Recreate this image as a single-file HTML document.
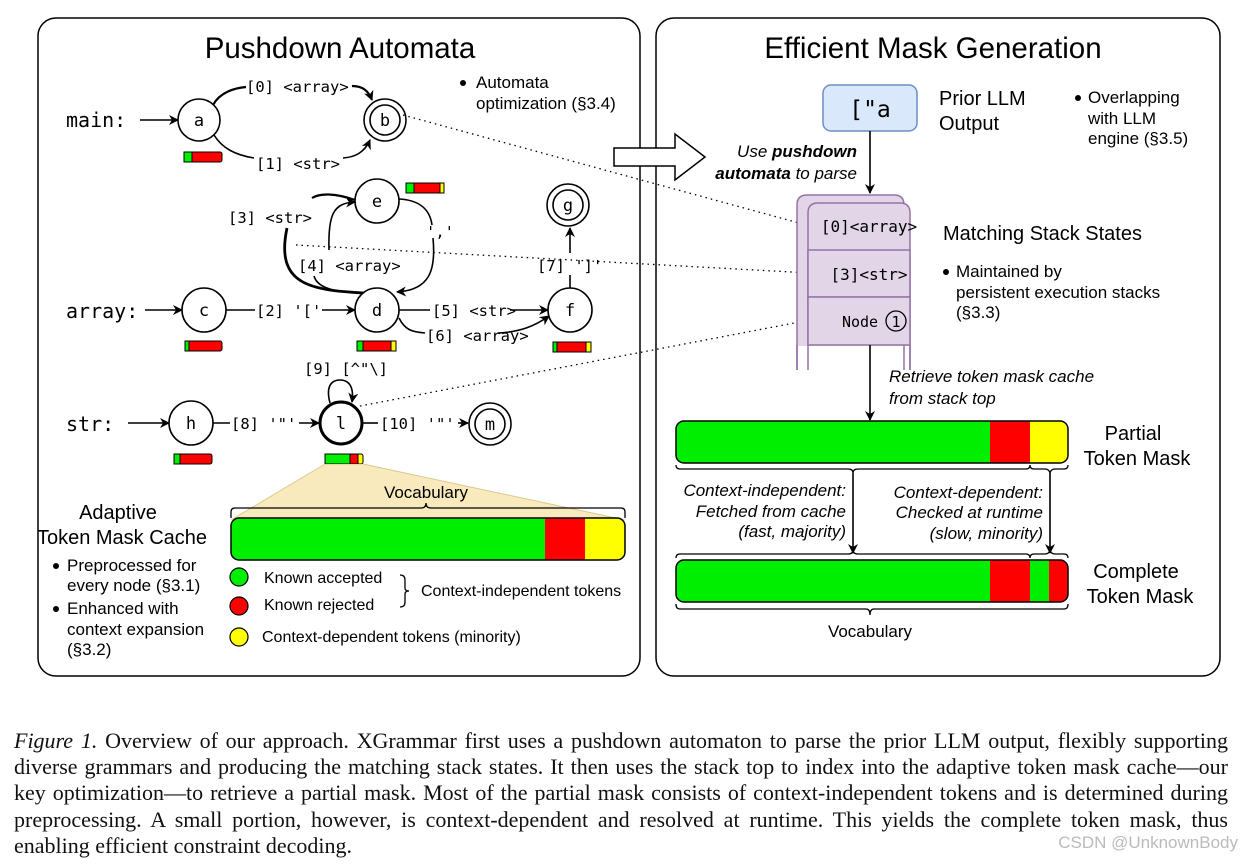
<!DOCTYPE html>
<html><head><meta charset="utf-8"><style>
body{margin:0;background:#fff;width:1252px;height:867px;overflow:hidden}
svg{position:absolute;left:0;top:0}
.s{font-family:"Liberation Sans",sans-serif}
.m{font-family:"DejaVu Sans Mono","Liberation Mono",monospace}
.cap{position:absolute;left:14px;top:728px;width:1214px;font-family:"Liberation Serif",serif;font-size:22px;line-height:26.2px;color:#111}
.cap div{text-align:justify;text-align-last:justify;white-space:nowrap}
.cap div.l{text-align-last:left}
.wm{position:absolute;right:14px;top:833px;font-family:"Liberation Sans",sans-serif;font-size:17px;color:#bbb}
</style></head><body>
<svg width="1252" height="867" viewBox="0 0 1252 867">
<defs>
<marker id="ah" markerWidth="10" markerHeight="10" refX="9" refY="5" orient="auto" markerUnits="userSpaceOnUse"><path d="M0,0 L10,5 L0,10 L3,5 Z" fill="#000"/></marker>
</defs>
<g fill="none" stroke="#000" stroke-width="1.5">
<rect x="38" y="18" width="602" height="658" rx="18"/>
<rect x="656" y="18" width="564" height="658" rx="18"/>
</g>
<text class="s" x="340" y="58" font-size="29.5" text-anchor="middle">Pushdown Automata</text>
<text class="s" x="933" y="58" font-size="29.5" text-anchor="middle">Efficient Mask Generation</text>

<g class="m" font-size="20">
<text x="66" y="127">main:</text>
<text x="66" y="318">array:</text>
<text x="66" y="431">str:</text>
</g>
<g fill="none" stroke="#000" stroke-width="1.6">
<line x1="140" y1="120" x2="178" y2="120" marker-end="url(#ah)"/>
<line x1="145" y1="310" x2="182" y2="310" marker-end="url(#ah)"/>
<line x1="128" y1="423" x2="169" y2="423" marker-end="url(#ah)"/>
<path d="M213,105 C220,92 235,88 246,87" stroke-width="2.2"/>
<path d="M352,86 C362,86 368,90 372,100" stroke-width="2.2" marker-end="url(#ah)"/>
<path d="M214,135 C222,148 235,155 254,158"/>
<path d="M343,158 C355,157 364,153 370,140" marker-end="url(#ah)"/>
<line x1="226" y1="310" x2="255" y2="310"/>
<line x1="322" y1="310" x2="355" y2="310" marker-end="url(#ah)"/>
<line x1="399" y1="310" x2="430" y2="310"/>
<line x1="510" y1="310" x2="548" y2="310" marker-end="url(#ah)"/>
<path d="M399,318 C405,330 412,332 425,333"/>
<path d="M498,333 C520,332 535,326 549,316" marker-end="url(#ah)"/>
<path d="M329,250 C328,215 333,203 355,202" marker-end="url(#ah)"/>
<path d="M312,198 C320,193 335,193 355,200" stroke-width="2.2"/>
<path d="M287,228 C275,285 310,290 364,293" stroke-width="2.8"/>
<path d="M314,276 C318,290 340,292 360,293"/>
<path d="M399,199 C420,200 430,210 432,225"/>
<path d="M433,238 C436,270 430,290 397,292" marker-end="url(#ah)"/>
<line x1="570" y1="288" x2="570" y2="275"/>
<line x1="570" y1="253" x2="570" y2="228" marker-end="url(#ah)"/>
<line x1="213" y1="423" x2="230" y2="423"/>
<line x1="299" y1="423" x2="319" y2="423" marker-end="url(#ah)"/>
<line x1="363" y1="423" x2="378" y2="423"/>
<line x1="458" y1="423" x2="468" y2="423" marker-end="url(#ah)"/>
<path d="M330,403 C326,388 330,380 340,380 C350,380 354,388 352,402" marker-end="url(#ah)"/>
</g>
<g fill="#fff" stroke="#000" stroke-width="1.6">
<circle cx="199" cy="120" r="21"/>
<circle cx="385" cy="120" r="21"/><circle cx="385" cy="120" r="15"/>
<circle cx="204" cy="310" r="22"/>
<circle cx="377" cy="310" r="22"/>
<circle cx="377" cy="201" r="22"/>
<circle cx="570" cy="310" r="22"/>
<circle cx="568" cy="205" r="21"/><circle cx="568" cy="205" r="15"/>
<circle cx="191" cy="423" r="22"/>
<circle cx="341" cy="423" r="21" stroke-width="3"/>
<circle cx="490" cy="424" r="21"/><circle cx="490" cy="424" r="15"/>
</g>
<g class="m" font-size="17" text-anchor="middle">
<text x="199" y="126">a</text><text x="385" y="126">b</text><text x="204" y="316">c</text>
<text x="377" y="316">d</text><text x="377" y="207">e</text><text x="570" y="316">f</text>
<text x="568" y="211">g</text><text x="191" y="429">h</text><text x="341" y="429">l</text><text x="490" y="430">m</text>
</g>
<g class="m" font-size="15.5">
<text x="246" y="92">[0] &lt;array&gt;</text>
<text x="256" y="169">[1] &lt;str&gt;</text>
<text x="228" y="223">[3] &lt;str&gt;</text>
<text x="298" y="271">[4] &lt;array&gt;</text>
<text x="256" y="316">[2] '['</text>
<text x="432" y="316">[5] &lt;str&gt;</text>
<text x="426" y="341">[6] &lt;array&gt;</text>
<text x="426" y="237">','</text>
<text x="537" y="271">[7] ']'</text>
<text x="304" y="374">[9] [^"\]</text>
<text x="231" y="429">[8] '"'</text>
<text x="380" y="429">[10] '"'</text>
</g>
<g stroke="#000" stroke-width="1">
<g transform="translate(184,152)"><rect width="38" height="10" fill="#f00" rx="2"/><rect width="8" height="10" fill="#0e0"/></g>
<g transform="translate(406,183)"><rect width="38" height="10" fill="#f00" rx="2"/><rect width="8" height="10" fill="#0e0"/><rect x="34" width="4" height="10" fill="#ff0"/></g>
<g transform="translate(185,341)"><rect width="37" height="10" fill="#f00" rx="2"/><rect width="4" height="10" fill="#0e0"/></g>
<g transform="translate(357,341)"><rect width="39" height="10" fill="#f00" rx="2"/><rect width="6" height="10" fill="#0e0"/><rect x="34" width="5" height="10" fill="#ff0"/></g>
<g transform="translate(553,342)"><rect width="38" height="10" fill="#f00" rx="2"/><rect width="4" height="10" fill="#0e0"/><rect x="33" width="5" height="10" fill="#ff0"/></g>
<g transform="translate(174,454)"><rect width="38" height="10" fill="#f00" rx="2"/><rect width="6" height="10" fill="#0e0"/></g>
<g transform="translate(325,454)"><rect width="38" height="10" fill="#ff0" rx="2"/><rect width="25" height="10" fill="#0e0"/><rect x="25" width="8" height="10" fill="#f00"/></g>
</g>
<polygon points="325,464 363,464 625,520 231,520" fill="#f7e6b0" opacity="0.85"/>
<line x1="325" y1="464" x2="231" y2="520" stroke="#d9c98c"/><line x1="363" y1="464" x2="625" y2="520" stroke="#d9c98c"/>
<text class="s" x="426" y="498" font-size="17" text-anchor="middle">Vocabulary</text>
<path d="M231,518 v-6 q0,-4 4,-4 h186 q5,0 5,-5 q0,5 5,5 h190 q4,0 4,4 v6" fill="none" stroke="#000" stroke-width="1.3"/>
<rect x="231" y="518" width="394" height="42" rx="8" fill="#ff0"/>
<path d="M239,518 H545 V560 H239 Q231,560 231,552 V526 Q231,518 239,518Z" fill="#0e0"/>
<rect x="545" y="518" width="40" height="42" fill="#f00"/>
<rect x="231" y="518" width="394" height="42" rx="8" fill="none" stroke="#000" stroke-width="1.5"/>
<text class="s" x="118" y="519" font-size="20" text-anchor="middle">Adaptive</text>
<text class="s" x="122" y="544" font-size="20" text-anchor="middle">Token Mask Cache</text>
<g class="s" font-size="17">
<circle cx="56" cy="566" r="3"/><text x="67" y="571">Preprocessed for</text><text x="67" y="591">every node (§3.1)</text>
<circle cx="56" cy="609" r="3"/><text x="67" y="614">Enhanced with</text><text x="67" y="635">context expansion</text><text x="67" y="655">(§3.2)</text>
<circle cx="463" cy="83" r="3"/><text x="476" y="88">Automata</text><text x="476" y="109">optimization (§3.4)</text>
</g>
<g stroke="#000" stroke-width="1.2">
<circle cx="239" cy="577" r="9" fill="#0e0"/><circle cx="239" cy="606" r="9" fill="#f00"/><circle cx="239" cy="637" r="9" fill="#ff0"/>
</g>
<g class="s" font-size="16">
<text x="264" y="583">Known accepted</text><text x="264" y="610">Known rejected</text>
<text x="421" y="596">Context-independent tokens</text>
<text x="262" y="642">Context-dependent tokens (minority)</text>
</g>
<path d="M400,575 q5,0 5,5 v8 q0,3 4,3 q-4,0 -4,3 v8 q0,5 -5,5" fill="none" stroke="#000" stroke-width="1.3"/>

<g stroke="#000" stroke-width="1.3" stroke-dasharray="1.5,4" fill="none">
<line x1="403" y1="115" x2="810" y2="226"/>
<line x1="296" y1="245" x2="810" y2="273"/>
<line x1="360" y1="406" x2="810" y2="320"/>
</g>

<path d="M614,148 H675 V134 L705,157 L675,180 V166 H614 Z" fill="#fff" stroke="#000" stroke-width="1.5"/>
<g class="s" font-size="17" font-style="italic" text-anchor="end">
<text x="857" y="157">Use <tspan font-weight="bold">pushdown</tspan></text>
<text x="857" y="179"><tspan font-weight="bold">automata</tspan> to parse</text>
</g>
<rect x="823" y="85" width="94" height="46" rx="8" fill="#dae8fc" stroke="#6c8ebf" stroke-width="1.5"/>
<text class="m" x="870" y="117" font-size="23" text-anchor="middle">["a</text>
<text class="s" x="939" y="105" font-size="20">Prior LLM</text>
<text class="s" x="939" y="130" font-size="20">Output</text>
<g class="s" font-size="17"><circle cx="1078" cy="98" r="3"/><text x="1088" y="103">Overlapping</text><text x="1088" y="124">with LLM</text><text x="1088" y="144">engine (§3.5)</text></g>
<line x1="870" y1="131" x2="870" y2="193" stroke="#000" stroke-width="1.6" marker-end="url(#ah)"/>
<g stroke="#9673a6" stroke-width="1.5" fill="#e1d5e7">
<path d="M797,370 V205 Q797,195 807,195 H894 Q904,195 904,205 V370" />
<path d="M808,370 V213 Q808,203 818,203 H900 Q910,203 910,213 V370" />
<rect x="808" y="250" width="102" height="47" fill="#e1d5e7"/>
<rect x="808" y="297" width="102" height="48" fill="#e1d5e7"/>
</g>
<rect x="798" y="346" width="111" height="30" fill="#fff"/>
<g stroke="#9673a6" stroke-width="1.5"><line x1="797" y1="345" x2="797" y2="370"/><line x1="808" y1="345" x2="808" y2="370"/><line x1="904" y1="345" x2="904" y2="370"/><line x1="910" y1="345" x2="910" y2="370"/></g>
<g class="m" font-size="16" text-anchor="middle">
<text x="869" y="232">[0]&lt;array&gt;</text>
<text x="869" y="280">[3]&lt;str&gt;</text>
<text x="860" y="327" font-size="15">Node</text>
</g>
<circle cx="896" cy="321" r="10" fill="none" stroke="#000" stroke-width="1.3"/>
<text class="m" x="896" y="327" font-size="15" text-anchor="middle">1</text>
<text class="s" x="943" y="240" font-size="20">Matching Stack States</text>
<g class="s" font-size="17"><circle cx="946" cy="272" r="3"/><text x="956" y="277">Maintained by</text><text x="956" y="298">persistent execution stacks</text><text x="956" y="318">(§3.3)</text></g>
<line x1="870" y1="345" x2="870" y2="420" stroke="#000" stroke-width="1.6" marker-end="url(#ah)"/>
<g class="s" font-size="17" font-style="italic"><text x="889" y="382">Retrieve token mask cache</text><text x="889" y="404">from stack top</text></g>
<rect x="676" y="421" width="392" height="42" rx="8" fill="#ff0"/>
<path d="M684,421 H990 V463 H684 Q676,463 676,455 V429 Q676,421 684,421Z" fill="#0e0"/>
<rect x="990" y="421" width="40" height="42" fill="#f00"/>
<rect x="676" y="421" width="392" height="42" rx="8" fill="none" stroke="#000" stroke-width="1.5"/>
<text class="s" x="1133" y="440" font-size="20" text-anchor="middle">Partial</text>
<text class="s" x="1137" y="465" font-size="20" text-anchor="middle">Token Mask</text>
<g fill="none" stroke="#000" stroke-width="1.3">
<path d="M676,465 q0,4 4,4 h168 q5,0 5,4 q0,-4 5,-4 h168 q4,0 4,-4"/>
<path d="M1030,465 q0,4 4,4 h11 q4,0 5,4 q1,-4 5,-4 h9 q4,0 4,-4"/>
<line x1="853" y1="473" x2="853" y2="553" stroke-width="1.6" marker-end="url(#ah)"/>
<line x1="1050" y1="473" x2="1050" y2="553" stroke-width="1.6" marker-end="url(#ah)"/>
<path d="M676,558 q0,-4 4,-4 h168 q5,0 5,-4 q0,4 5,4 h168 q4,0 4,4"/>
<path d="M1030,558 q0,-4 4,-4 h11 q4,0 5,-4 q1,4 5,4 h9 q4,0 4,4"/>
<path d="M676,604 q0,5 4,5 h186 q4,0 4,6 q0,-6 4,-6 h190 q4,0 4,-5"/>
</g>
<g class="s" font-size="17" font-style="italic" text-anchor="end">
<text x="846" y="496">Context-independent:</text><text x="846" y="517">Fetched from cache</text><text x="846" y="537">(fast, majority)</text>
<text x="1043" y="498">Context-dependent:</text><text x="1043" y="518">Checked at runtime</text><text x="1043" y="539">(slow, minority)</text>
</g>
<rect x="676" y="560" width="392" height="42" rx="8" fill="#f00"/>
<path d="M684,560 H990 V602 H684 Q676,602 676,594 V568 Q676,560 684,560Z" fill="#0e0"/>
<rect x="1030" y="560" width="19" height="42" fill="#0e0"/>
<rect x="676" y="560" width="392" height="42" rx="8" fill="none" stroke="#000" stroke-width="1.5"/>
<text class="s" x="1136" y="578" font-size="20" text-anchor="middle">Complete</text>
<text class="s" x="1140" y="603" font-size="20" text-anchor="middle">Token Mask</text>
<text class="s" x="870" y="637" font-size="17" text-anchor="middle">Vocabulary</text>
</svg>
<div class="cap">
<div><i>Figure 1.</i> Overview of our approach. XGrammar first uses a pushdown automaton to parse the prior LLM output, flexibly supporting</div>
<div>diverse grammars and producing the matching stack states. It then uses the stack top to index into the adaptive token mask cache—our</div>
<div>key optimization—to retrieve a partial mask. Most of the partial mask consists of context-independent tokens and is determined during</div>
<div>preprocessing. A small portion, however, is context-dependent and resolved at runtime. This yields the complete token mask, thus</div>
<div class="l">enabling efficient constraint decoding.</div>
</div>
<div class="wm">CSDN @UnknownBody</div>
</body></html>
